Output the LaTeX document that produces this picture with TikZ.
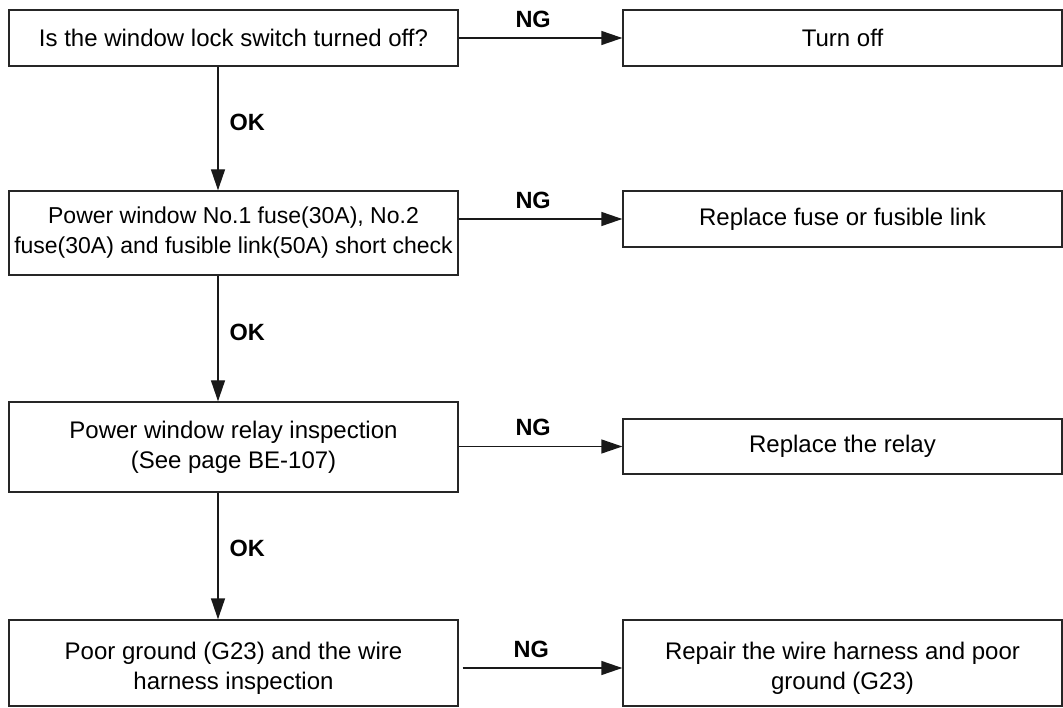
\documentclass[tikz,border=0pt]{standalone}
\usepackage{fontspec}
\setmainfont{Liberation Sans}
\usetikzlibrary{arrows.meta}
\begin{document}
\begin{tikzpicture}[x=1pt,y=-1pt,
  box/.style={draw=black!85, line width=1.4pt, rectangle, inner sep=0pt},
  txt/.style={inner sep=0pt, align=center, font=\fontsize{24}{30}\selectfont},
  arr/.style={draw=black!90, line width=1.4pt, -{Triangle[length=21pt,width=14pt]}},
  lab/.style={inner sep=0pt, font=\fontsize{23.5}{28}\selectfont\bfseries}]
\useasboundingbox (0,0) rectangle (1063,708);
\coordinate (ax) at (218,0);
% left column
\node[box, minimum width=449pt, minimum height=56pt] (b1) at (233.5,38) {};
\node[txt] (t1) at (b1.center) {Is the window lock switch turned off?};
\node[box, minimum width=449pt, minimum height=84pt] (b2) at (233.5,233) {};
\node[txt, font=\fontsize{23}{30}\selectfont] (t2) at (b2.center) {Power window No.1 fuse(30A), No.2\\fuse(30A) and fusible link(50A) short check};
\node[box, minimum width=449pt, minimum height=90pt] (b3) at (233.5,447) {};
\node[txt] (t3) at (b3.center) {Power window relay inspection\\(See page BE-107)};
\node[box, minimum width=449pt, minimum height=86pt] (b4) at (233.5,663) {};
\node[txt] (t4) at (233.5,668) {Poor ground (G23) and the wire\\harness inspection};
% right column
\node[box, minimum width=439pt, minimum height=56pt] (r1) at (842.5,38) {};
\node[txt] (s1) at (r1.center) {Turn off};
\node[box, minimum width=439pt, minimum height=56pt] (r2) at (842.5,219) {};
\node[txt] (s2) at (r2.center) {Replace fuse or fusible link};
\node[box, minimum width=439pt, minimum height=55pt] (r3) at (842.5,446.5) {};
\node[txt] (s3) at (r3.center) {Replace the relay};
\node[box, minimum width=439pt, minimum height=86pt] (r4) at (842.5,663) {};
\node[txt] (s4) at (842.5,668) {Repair the wire harness and poor\\ground (G23)};
% NG arrows
\draw[arr] (b1.east |- r1.west) -- (r1.west) node[lab, pos=0.455, above=10pt] (ng1) {NG};
\draw[arr] (b2.east |- r2.west) -- (r2.west) node[lab, pos=0.455, above=10pt] (ng2) {NG};
\draw[arr] (b3.east |- r3.west) -- (r3.west) node[lab, pos=0.455, above=10pt] (ng3) {NG};
\draw[arr] ([xshift=4pt]b4.east |- s4) -- (r4.west |- s4) node[lab, pos=0.43, above=10pt] (ng4) {NG};
% OK arrows
\draw[arr] (b1.south -| ax) -- (b2.north -| ax) node[lab, pos=0.45, anchor=west, xshift=11pt] (ok1) {OK};
\draw[arr] (b2.south -| ax) -- (b3.north -| ax) node[lab, pos=0.45, anchor=west, xshift=11pt] (ok2) {OK};
\draw[arr] (b3.south -| ax) -- (b4.north -| ax) node[lab, pos=0.44, anchor=west, xshift=11pt] (ok3) {OK};
\end{tikzpicture}
\end{document}
